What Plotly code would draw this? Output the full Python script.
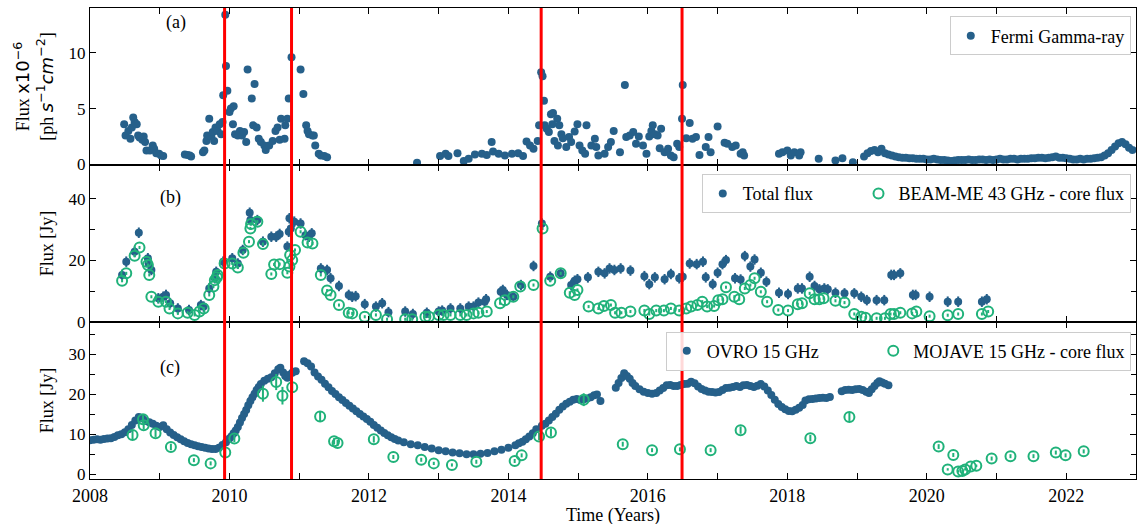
import plotly.graph_objects as go
from plotly.subplots import make_subplots

BLUE = "#26608a"
GREEN = "#20b27a"
FONT = "Liberation Serif"

# ---------------- Panel (a): Fermi gamma-ray flux (x1e-6 ph s^-1 cm^-2)
fermi_t = [2008.49, 2008.51, 2008.55, 2008.58, 2008.60, 2008.62, 2008.64, 2008.67, 2008.69, 2008.71,
           2008.75, 2008.77, 2008.79, 2008.81, 2008.86, 2008.90, 2008.92, 2008.95, 2008.99, 2009.02,
           2009.05, 2009.36, 2009.40, 2009.43, 2009.45, 2009.62, 2009.64, 2009.67, 2009.68, 2009.71,
           2009.74, 2009.76, 2009.78, 2009.80, 2009.83, 2009.86, 2009.88, 2009.90, 2009.91, 2009.94,
           2009.95, 2009.97, 2010.00, 2010.02, 2010.05, 2010.06, 2010.08, 2010.12, 2010.15, 2010.18,
           2010.21, 2010.24, 2010.26, 2010.32, 2010.34, 2010.36, 2010.39, 2010.42, 2010.45, 2010.50,
           2010.52, 2010.57, 2010.62, 2010.66, 2010.69, 2010.72, 2010.74, 2010.79, 2010.80, 2010.83,
           2010.85, 2010.89, 2011.02, 2011.06, 2011.10, 2011.12, 2011.14, 2011.19, 2011.21, 2011.23,
           2011.28, 2011.31, 2011.36, 2011.40, 2012.69, 2013.02, 2013.10, 2013.14, 2013.27, 2013.36,
           2013.43, 2013.52, 2013.62, 2013.69, 2013.76, 2013.78, 2013.86, 2013.95, 2014.05, 2014.14,
           2014.21, 2014.26, 2014.31, 2014.36, 2014.42, 2014.44, 2014.47, 2014.49, 2014.51, 2014.52,
           2014.55, 2014.58, 2014.61, 2014.64, 2014.63, 2014.66, 2014.70, 2014.71, 2014.73, 2014.76,
           2014.78, 2014.83, 2014.87, 2014.90, 2014.95, 2014.99, 2015.02, 2015.06, 2015.10, 2015.12,
           2015.19, 2015.24, 2015.26, 2015.29, 2015.38, 2015.43, 2015.47, 2015.51, 2015.60, 2015.67,
           2015.69, 2015.74, 2015.79, 2015.83, 2015.87, 2015.93, 2015.98, 2016.02, 2016.05, 2016.07,
           2016.10, 2016.14, 2016.17, 2016.19, 2016.24, 2016.29, 2016.33, 2016.37, 2016.42, 2016.45,
           2016.49, 2016.50, 2016.55, 2016.60, 2016.64, 2016.69, 2016.74, 2016.83, 2016.87, 2016.90,
           2017.00, 2017.10, 2017.14, 2017.21, 2017.26, 2017.33, 2017.36, 2017.38, 2017.88, 2017.93,
           2018.00, 2018.05, 2018.10, 2018.17, 2018.19, 2018.45, 2018.69, 2018.79, 2018.94,
           2019.10, 2019.15, 2019.20, 2019.25, 2019.30, 2019.35, 2019.40, 2019.45, 2019.50, 2019.55,
           2019.60, 2019.65, 2019.70, 2019.75, 2019.80, 2019.85, 2019.90, 2019.95, 2020.00, 2020.05,
           2020.10, 2020.15, 2020.20, 2020.25, 2020.30, 2020.35, 2020.40, 2020.45, 2020.50, 2020.55,
           2020.60, 2020.65, 2020.70, 2020.75, 2020.80, 2020.85, 2020.90, 2020.95, 2021.00, 2021.05,
           2021.10, 2021.15, 2021.20, 2021.25, 2021.30, 2021.35, 2021.40, 2021.45, 2021.50, 2021.55,
           2021.60, 2021.65, 2021.70, 2021.75, 2021.80, 2021.85, 2021.90, 2021.95, 2022.00, 2022.05,
           2022.10, 2022.15, 2022.20, 2022.25, 2022.30, 2022.35, 2022.40, 2022.45, 2022.50, 2022.55,
           2022.60, 2022.65, 2022.70, 2022.75, 2022.80, 2022.85, 2022.90, 2022.95]
fermi_f = [3.6, 2.6, 3.0, 2.3, 3.3, 4.2, 3.8, 3.6, 2.6, 2.4,
           2.2, 2.5, 2.0, 1.25, 1.25, 1.7, 1.4, 1.0, 0.95, 0.8,
           0.75, 0.9, 0.85, 0.8, 0.7, 1.1, 1.25, 2.1, 2.6, 4.1,
           2.5, 2.9, 2.1, 3.3, 3.0, 3.6, 2.7, 3.8, 6.2, 13.4,
           8.8, 6.6, 4.7, 5.0, 3.6, 5.2, 2.7, 2.6, 3.0, 2.6,
           2.9, 2.0, 8.5, 5.9, 3.5, 7.2, 3.3, 2.3, 2.0, 1.7,
           1.3, 1.7, 2.1, 3.0, 3.3, 2.2, 4.1, 2.3, 3.5, 4.1,
           5.9, 9.6, 8.5, 6.3, 3.5, 3.0, 2.7, 2.6, 2.6, 1.7,
           0.95, 0.8, 0.75, 0.65, 0.15, 0.75, 0.95, 0.75, 1.0, 0.3,
           0.5, 0.9, 0.95, 0.85, 2.0, 1.15, 0.95, 0.8, 0.95, 1.0,
           0.75, 2.05, 1.7, 1.4, 2.1, 3.5, 8.25, 7.9, 5.7, 3.5,
           3.2, 2.9, 4.5, 4.6, 3.6, 2.1, 4.1, 1.7, 3.5, 2.7,
           2.35, 1.55, 2.45, 2.0, 2.95, 3.6, 1.7, 1.25, 0.95, 3.5,
           1.7, 2.3, 1.55, 0.8, 0.95, 1.55, 2.0, 3.0, 1.1, 7.1,
           2.45, 2.6, 2.9, 1.85, 2.5, 1.7, 0.95, 2.5, 3.0, 3.5,
           2.7, 2.6, 1.45, 3.2, 1.1, 1.4, 0.8, 0.65, 1.85, 1.55,
           4.1, 7.1, 2.35, 3.7, 2.3, 2.45, 0.85, 1.55, 2.45, 1.1,
           3.4, 1.95, 1.85, 1.55, 1.7, 0.95, 1.1, 0.8, 0.95, 1.1,
           1.25, 0.8, 1.1, 0.8, 1.1, 0.5, 0.35, 0.55, 0.2,
           0.7, 1.0, 1.2, 1.3, 1.1, 1.4, 1.0, 0.9, 0.8, 0.7,
           0.65, 0.6, 0.6, 0.55, 0.55, 0.5, 0.5, 0.5, 0.45, 0.45,
           0.5, 0.45, 0.4, 0.4, 0.35, 0.3, 0.35, 0.4, 0.4, 0.4,
           0.45, 0.4, 0.4, 0.45, 0.45, 0.4, 0.45, 0.4, 0.45, 0.5,
           0.45, 0.45, 0.5, 0.5, 0.45, 0.5, 0.5, 0.5, 0.55, 0.55,
           0.6, 0.6, 0.55, 0.6, 0.65, 0.7, 0.6, 0.6, 0.55, 0.5,
           0.45, 0.45, 0.5, 0.45, 0.5, 0.5, 0.55, 0.6, 0.65, 0.8,
           1.0, 1.3, 1.6, 1.9, 2.0, 1.8, 1.5, 1.3]

# ---------------- Panel (b): total flux and BEAM-ME 43 GHz core flux (Jy)
total_t = [2008.46, 2008.52, 2008.64, 2008.70, 2008.83, 2008.84, 2008.88, 2008.98, 2009.05, 2009.09,
           2009.15, 2009.26, 2009.42, 2009.59, 2009.63, 2009.71, 2009.79, 2009.81, 2009.91, 2010.04,
           2010.12, 2010.19, 2010.29, 2010.30, 2010.40, 2010.48, 2010.60, 2010.67, 2010.72, 2010.83,
           2010.85, 2010.86, 2010.88, 2010.93, 2011.02, 2011.09, 2011.14, 2011.18, 2011.31, 2011.40,
           2011.45, 2011.57, 2011.71, 2011.76, 2011.81, 2011.94, 2012.10, 2012.19, 2012.28, 2012.52,
           2012.63, 2012.83, 2013.00, 2013.05, 2013.17, 2013.31, 2013.43, 2013.50, 2013.57, 2013.66,
           2013.68, 2013.89, 2013.92, 2013.98, 2014.07, 2014.18, 2014.36, 2014.48, 2014.60, 2014.75,
           2014.90, 2014.95, 2014.99, 2015.14, 2015.29, 2015.38, 2015.45, 2015.52, 2015.61, 2015.75,
           2015.95, 2016.02, 2016.10, 2016.24, 2016.33, 2016.45, 2016.50, 2016.60, 2016.70, 2016.79,
           2016.83, 2016.93, 2017.00, 2017.07, 2017.12, 2017.25, 2017.33, 2017.39, 2017.47, 2017.53,
           2017.62, 2017.70, 2017.88, 2018.01, 2018.15, 2018.21, 2018.32, 2018.39, 2018.46, 2018.53,
           2018.58, 2018.69, 2018.82, 2018.96, 2019.06, 2019.14, 2019.28, 2019.39, 2019.49, 2019.53,
           2019.62, 2019.80, 2019.84, 2020.04, 2020.30, 2020.45, 2020.79, 2020.86]
total_f = [15.3, 19.6, 22.8, 29.0, 20.7, 19.0, 16.9, 7.7, 8.2, 8.8,
           6.1, 4.4, 3.9, 5.5, 5.0, 10.9, 14.2, 16.3, 19.6, 20.7,
           19.0, 23.4, 35.5, 33.1, 33.1, 26.1, 27.7, 27.7, 28.6, 24.5,
           29.3, 33.7, 30.4, 32.6, 32.0, 28.2, 27.7, 28.8, 17.4, 16.9,
           14.2, 11.7, 8.8, 8.2, 8.4, 5.8, 5.0, 6.1, 3.2, 3.4,
           2.6, 3.0, 3.4, 3.7, 4.4, 4.4, 5.0, 5.0, 6.3, 6.6,
           7.4, 9.8, 10.4, 8.8, 8.2, 12.0, 18.2, 32.0, 14.7, 15.8,
           12.0, 13.4, 13.9, 14.5, 16.3, 15.8, 17.4, 16.9, 17.4, 16.7,
           14.9, 12.3, 14.5, 13.9, 15.6, 14.2, 14.7, 19.0, 18.8, 19.6,
           14.5, 12.3, 16.0, 18.8, 20.1, 14.2, 13.8, 21.4, 18.0, 20.3,
           16.0, 13.1, 9.5, 9.1, 10.9, 10.9, 14.7, 11.7, 10.6, 10.9,
           10.6, 9.5, 9.3, 9.3, 8.2, 7.1, 7.1, 7.1, 15.3, 15.3,
           15.8, 8.8, 8.8, 8.2, 6.6, 6.6, 6.6, 7.4]

core43_t = [2008.46, 2008.52, 2008.64, 2008.71, 2008.81, 2008.83, 2008.85, 2008.88, 2008.98, 2009.09,
            2009.14, 2009.26, 2009.40, 2009.50, 2009.57, 2009.63, 2009.71, 2009.77, 2009.79, 2009.82,
            2009.83, 2009.93, 2010.04, 2010.12, 2010.20, 2010.28, 2010.30, 2010.31, 2010.40, 2010.48,
            2010.60, 2010.64, 2010.72, 2010.83, 2010.86, 2010.87, 2010.90, 2010.94, 2011.02, 2011.12,
            2011.19, 2011.31, 2011.40, 2011.45, 2011.57, 2011.71, 2011.76, 2011.94, 2012.10, 2012.26,
            2012.52, 2012.62, 2012.81, 2012.86, 2013.00, 2013.07, 2013.17, 2013.31, 2013.40, 2013.50,
            2013.57, 2013.69, 2013.88, 2013.95, 2014.07, 2014.17, 2014.36, 2014.49, 2014.60, 2014.75,
            2014.88, 2014.95, 2014.99, 2015.15, 2015.29, 2015.37, 2015.47, 2015.53, 2015.62, 2015.75,
            2015.95, 2016.02, 2016.12, 2016.23, 2016.33, 2016.45, 2016.55, 2016.62, 2016.71, 2016.78,
            2016.85, 2016.95, 2017.01, 2017.07, 2017.12, 2017.24, 2017.31, 2017.39, 2017.47, 2017.53,
            2017.62, 2017.71, 2017.87, 2018.01, 2018.15, 2018.21, 2018.32, 2018.39, 2018.46, 2018.52,
            2018.69, 2018.82, 2018.96, 2019.06, 2019.12, 2019.28, 2019.40, 2019.48, 2019.53, 2019.62,
            2019.79, 2019.85, 2020.04, 2020.30, 2020.45, 2020.79, 2020.88]
core43_f = [13.4, 15.8, 21.5, 24.2, 19.6, 18.5, 15.3, 8.2, 6.6, 6.6,
            4.4, 2.8, 3.0, 2.3, 3.4, 4.4, 8.8, 11.5, 13.6, 14.5,
            15.3, 19.0, 19.0, 17.7, 22.5, 26.1, 30.4, 31.8, 32.6, 25.3,
            15.6, 18.7, 18.8, 16.0, 18.0, 21.8, 20.1, 23.4, 29.3, 25.8,
            25.5, 15.3, 10.2, 8.8, 5.5, 3.0, 2.8, 1.7, 2.3, 0.9,
            0.9, 0.9, 1.7, 1.7, 2.3, 2.3, 2.3, 2.3, 2.3, 2.8,
            3.0, 3.4, 6.1, 7.1, 8.2, 11.5, 12.0, 30.4, 13.4, 15.8,
            9.5, 8.8, 10.4, 5.0, 4.4, 5.2, 5.5, 3.0, 3.0, 3.4,
            3.7, 2.6, 3.7, 3.7, 4.4, 3.7, 4.4, 5.0, 5.5, 6.6,
            5.0, 5.2, 7.1, 7.4, 11.3, 8.2, 7.4, 10.9, 12.0, 14.2,
            9.8, 6.6, 3.9, 3.7, 5.8, 6.1, 9.3, 7.4, 7.4, 7.7,
            6.9, 6.3, 2.6, 1.7, 1.4, 1.2, 1.2, 2.6, 2.6, 3.0,
            2.8, 3.4, 1.9, 2.2, 2.6, 2.6, 3.4]

# ---------------- Panel (c): OVRO 15 GHz and MOJAVE 15 GHz core flux (Jy)
ovro_t = [2008.00, 2008.05, 2008.10, 2008.15, 2008.20, 2008.25, 2008.30, 2008.35, 2008.40, 2008.45,
          2008.50, 2008.55, 2008.60, 2008.65, 2008.70, 2008.75, 2008.80, 2008.85, 2008.90, 2008.95,
          2009.00, 2009.05, 2009.10, 2009.15, 2009.20, 2009.25, 2009.30, 2009.35, 2009.40, 2009.45,
          2009.50, 2009.55, 2009.60, 2009.65, 2009.70, 2009.75, 2009.80, 2009.85, 2009.90, 2009.95,
          2010.00, 2010.03, 2010.06, 2010.09, 2010.12, 2010.15, 2010.18, 2010.21, 2010.24, 2010.27,
          2010.30, 2010.33, 2010.36, 2010.39, 2010.42, 2010.45, 2010.50, 2010.55, 2010.60, 2010.65,
          2010.70, 2010.73, 2010.77, 2010.80, 2010.83, 2010.86, 2010.90, 2010.95,
          2011.07, 2011.12, 2011.17, 2011.22, 2011.27, 2011.32, 2011.37, 2011.42, 2011.47, 2011.52,
          2011.57, 2011.62, 2011.67, 2011.72, 2011.77, 2011.82, 2011.87, 2011.92, 2011.97, 2012.02,
          2012.07, 2012.12, 2012.17, 2012.22, 2012.27, 2012.32, 2012.37, 2012.42, 2012.50, 2012.60,
          2012.70, 2012.80, 2012.90, 2013.00, 2013.10, 2013.20, 2013.30, 2013.40, 2013.50, 2013.60,
          2013.70, 2013.80, 2013.90, 2014.00, 2014.10, 2014.15, 2014.20, 2014.25, 2014.30, 2014.35,
          2014.40, 2014.48, 2014.53, 2014.58, 2014.63, 2014.68, 2014.73, 2014.78, 2014.83, 2014.88,
          2014.93, 2014.98, 2015.03, 2015.08, 2015.13, 2015.18, 2015.23, 2015.27, 2015.32,
          2015.54, 2015.58, 2015.62, 2015.66, 2015.70, 2015.74, 2015.78, 2015.82, 2015.88, 2015.94,
          2016.00, 2016.06, 2016.12, 2016.17, 2016.22, 2016.27, 2016.32, 2016.37, 2016.42, 2016.47,
          2016.52, 2016.57, 2016.62, 2016.67, 2016.72, 2016.77, 2016.82, 2016.87, 2016.92, 2016.97,
          2017.02, 2017.07, 2017.12, 2017.17, 2017.22, 2017.27, 2017.32, 2017.37, 2017.42, 2017.47,
          2017.52, 2017.57, 2017.62, 2017.67, 2017.72, 2017.77, 2017.82, 2017.87, 2017.92, 2017.97,
          2018.02, 2018.07, 2018.12, 2018.17, 2018.22, 2018.26, 2018.31, 2018.36, 2018.41, 2018.46,
          2018.51, 2018.56, 2018.61, 2018.78, 2018.83, 2018.88, 2018.93, 2018.98, 2019.03, 2019.08,
          2019.13, 2019.17, 2019.21, 2019.25, 2019.29, 2019.32, 2019.36, 2019.40, 2019.45]
ovro_f = [8.5, 8.6, 8.7, 8.6, 8.8, 8.9, 9.0, 9.3, 9.7, 10.0,
          10.5, 11.2, 12.3, 13.4, 14.3, 13.9, 13.3, 13.0, 12.6, 12.1,
          11.8, 12.2, 11.2, 10.4, 9.8, 9.2, 8.7, 8.2, 7.8, 7.5,
          7.2, 7.0, 6.8, 6.6, 6.4, 6.3, 6.3, 6.6, 7.3, 8.0,
          8.9, 9.5, 10.2, 10.9, 11.8, 12.9, 14.0, 15.0, 16.0, 17.2,
          18.3, 19.2, 20.1, 21.0, 21.8, 22.5, 23.3, 23.8, 24.2, 25.2,
          26.2, 26.6, 25.4, 24.5, 24.1, 24.8, 25.3, 25.7,
          28.2, 27.7, 26.9, 25.4, 24.4, 23.6, 22.6, 21.7, 20.8, 20.0,
          19.2, 18.5, 17.8, 17.1, 16.4, 15.7, 15.0, 14.4, 13.8, 13.1,
          12.3, 11.6, 10.9, 10.3, 9.7, 9.2, 8.8, 8.4, 8.0, 7.5,
          7.2, 6.8, 6.4, 6.0, 5.7, 5.4, 5.2, 5.0, 5.0, 5.1,
          5.3, 5.7, 6.1, 6.6, 7.2, 7.7, 8.1, 8.7, 9.4, 10.2,
          11.2, 12.1, 12.6, 13.4, 14.3, 15.1, 16.1, 16.9, 17.6, 18.1,
          18.6, 18.8, 18.5, 18.7, 18.9, 19.2, 19.7, 19.9, 18.3,
          21.6, 22.8, 24.0, 25.2, 24.5, 23.8, 22.8, 22.0, 21.2, 20.6,
          20.3, 20.1, 20.3, 20.9, 21.5, 22.2, 22.3, 22.0, 22.0, 22.3,
          22.5, 22.6, 23.1, 22.7, 21.9, 21.3, 20.9, 20.6, 20.5, 20.4,
          20.5, 21.0, 21.5, 21.6, 21.8, 22.0, 21.8, 22.2, 22.3, 22.0,
          21.8, 22.1, 22.5, 21.9, 20.9, 19.8, 18.6, 17.5, 16.8, 16.2,
          15.8, 15.7, 16.1, 16.6, 17.3, 18.4, 18.7, 18.8, 18.9, 19.0,
          19.1, 19.0, 19.3, 20.7, 21.0, 21.1, 21.0, 21.2, 21.3, 21.0,
          20.6, 20.3, 21.2, 22.0, 22.8, 23.2, 22.9, 22.6, 22.2]

mojave_t = [2008.61, 2008.76, 2008.77, 2008.94, 2009.16, 2009.49, 2009.73, 2009.94, 2010.07, 2010.48,
            2010.67, 2010.76, 2010.90, 2011.30, 2011.50, 2011.55, 2012.07, 2012.35, 2012.75, 2012.93,
            2013.19, 2013.54, 2014.09, 2014.19, 2014.44, 2014.61, 2015.08, 2015.64, 2016.06, 2016.46,
            2016.90, 2017.33, 2018.33, 2018.89, 2020.17, 2020.30, 2020.38, 2020.45, 2020.51, 2020.55,
            2020.63, 2020.71, 2020.93, 2021.20, 2021.53, 2021.85, 2021.99, 2022.25]
mojave_f = [9.8, 13.7, 12.2, 10.2, 6.8, 3.5, 2.7, 5.4, 8.9, 20.1,
            23.0, 19.6, 21.7, 14.4, 8.2, 7.8, 8.7, 4.3, 3.6, 2.7,
            2.3, 3.1, 3.3, 4.7, 9.4, 10.4, 18.6, 7.5, 6.0, 6.2,
            6.0, 11.0, 9.0, 14.3, 6.9, 1.2, 4.8, 0.7, 0.8, 1.2,
            1.9, 2.1, 3.9, 4.5, 4.5, 5.4, 4.7, 5.7]
mojave_err = [1.2, 1.0, 1.0, 0.9, 0.8, 0.5, 0.5, 0.9, 0.9, 2.0,
              2.0, 2.2, 1.2, 1.2, 0.8, 0.8, 0.8, 0.5, 0.5, 0.4,
              0.4, 0.5, 0.5, 0.5, 0.9, 1.0, 1.6, 0.6, 0.5, 0.5,
              0.5, 0.9, 0.8, 1.0, 0.6, 0.3, 0.5, 0.3, 0.3, 0.3,
              0.3, 0.3, 0.5, 0.5, 0.5, 0.5, 0.5, 0.5]

# Vertical lines marking flares (years)
flare_years = [2009.93, 2010.89, 2014.47, 2016.49]

NB = "\u00a0"  # non-breaking space used to widen the gap between legend entries

fig = make_subplots(rows=3, cols=1, shared_xaxes=True, vertical_spacing=0)

err_style = dict(type="constant", thickness=2, width=0, color=BLUE)

fig.add_trace(go.Scatter(x=fermi_t, y=fermi_f, mode="markers", name="Fermi Gamma-ray",
                         marker=dict(color=BLUE, size=8),
                         error_y=dict(err_style, value=0.25),
                         showlegend=True, legend="legend"), row=1, col=1)

fig.add_trace(go.Scatter(x=total_t, y=total_f, mode="markers", name="Total flux" + NB * 9,
                         marker=dict(color=BLUE, size=8),
                         error_y=dict(err_style, value=1.7),
                         showlegend=True, legend="legend2"), row=2, col=1)
fig.add_trace(go.Scatter(x=core43_t, y=core43_f, mode="markers", name="BEAM-ME 43 GHz - core flux",
                         marker=dict(color="rgba(0,0,0,0)", size=10, symbol="circle",
                                     line=dict(color=GREEN, width=2)),
                         error_y=dict(type="constant", value=0.5, thickness=2, width=0, color=GREEN),
                         showlegend=True, legend="legend2"), row=2, col=1)

fig.add_trace(go.Scatter(x=ovro_t, y=ovro_f, mode="markers", name="OVRO 15 GHz" + NB * 11,
                         marker=dict(color=BLUE, size=8),
                         error_y=dict(err_style, value=0.2),
                         showlegend=True, legend="legend3"), row=3, col=1)
fig.add_trace(go.Scatter(x=mojave_t, y=mojave_f, mode="markers", name="MOJAVE 15 GHz - core flux",
                         marker=dict(color="rgba(0,0,0,0)", size=10, symbol="circle",
                                     line=dict(color=GREEN, width=2)),
                         error_y=dict(type="data", array=mojave_err, thickness=2, width=0, color=GREEN),
                         showlegend=True, legend="legend3"), row=3, col=1)

for yr in flare_years:
    fig.add_shape(type="line", xref="x", yref="paper", x0=yr, x1=yr, y0=0, y1=1,
                  line=dict(color="#ff0000", width=3), layer="above")

axis_common = dict(showline=True, linecolor="black", linewidth=1.3, mirror="ticks",
                   ticks="inside", ticklen=6, tickwidth=1.2, tickcolor="black",
                   showgrid=False, zeroline=False, automargin=False)

for r in (1, 2, 3):
    fig.update_xaxes(axis_common, range=[2008, 2023], dtick=2, tick0=2008,
                     minor=dict(dtick=1, ticks="inside", ticklen=6, tickcolor="black", showgrid=False),
                     tickfont=dict(size=18), row=r, col=1)

# x-axis title placed as a paper annotation so its vertical position is exact
fig.add_annotation(x=0.5, y=-0.077, xref="paper", yref="paper", text="Time (Years)",
                   showarrow=False, xanchor="center", yanchor="middle", font=dict(size=18))

MATH = "font-family:'DejaVu Sans'"
fig.update_yaxes(axis_common, range=[-0.05, 14.0], tickvals=[0, 5, 10],
                 tickfont=dict(size=17),
                 title=dict(text=("Flux <span style=\"" + MATH + "\">x10<sup>−6</sup></span><br>"
                                  "[ph <span style=\"" + MATH + "\"><i>s</i><sup>−1</sup><i>cm</i><sup>−2</sup></span>]"),
                            font=dict(size=18), standoff=10), row=1, col=1)
fig.update_yaxes(axis_common, range=[0, 51], tickvals=[0, 20, 40],
                 minor=dict(tickvals=[10, 30], ticks="inside", ticklen=5, tickcolor="black"),
                 tickfont=dict(size=17),
                 title=dict(text="Flux [Jy]", font=dict(size=18), standoff=10), row=2, col=1)
fig.update_yaxes(axis_common, range=[-1.2, 38.0], tickvals=[0, 10, 20, 30],
                 minor=dict(tickvals=[5, 15, 25, 35], ticks="inside", ticklen=5, tickcolor="black"),
                 tickfont=dict(size=17),
                 title=dict(text="Flux [Jy]", font=dict(size=18), standoff=10), row=3, col=1)

leg_common = dict(bgcolor="rgba(255,255,255,0.85)", bordercolor="#cccccc", borderwidth=1,
                  font=dict(size=18, family=FONT, color="black"), xanchor="right", yanchor="top",
                  x=0.995, visible=True)
fig.update_layout(
    showlegend=True,
    legend=dict(leg_common, y=0.982),
    legend2=dict(leg_common, y=0.647, orientation="h"),
    legend3=dict(leg_common, y=0.313, orientation="h"),
)

fig.add_annotation(x=2009.23, y=12.7, xref="x", yref="y", text="(a)", showarrow=False,
                   font=dict(size=18))
fig.add_annotation(x=2009.16, y=40.6, xref="x2", yref="y2", text="(b)", showarrow=False,
                   font=dict(size=18))
fig.add_annotation(x=2009.14, y=26.6, xref="x3", yref="y3", text="(c)", showarrow=False,
                   font=dict(size=18))

fig.update_layout(
    width=1137, height=524,
    margin=dict(l=90, r=1, t=8, b=45),
    plot_bgcolor="white", paper_bgcolor="white",
    font=dict(family=FONT, color="black", size=17),
)

fig.write_html("out.html", config={"displayModeBar": False},
               post_script="document.body.style.margin='0';document.body.style.padding='0';")
